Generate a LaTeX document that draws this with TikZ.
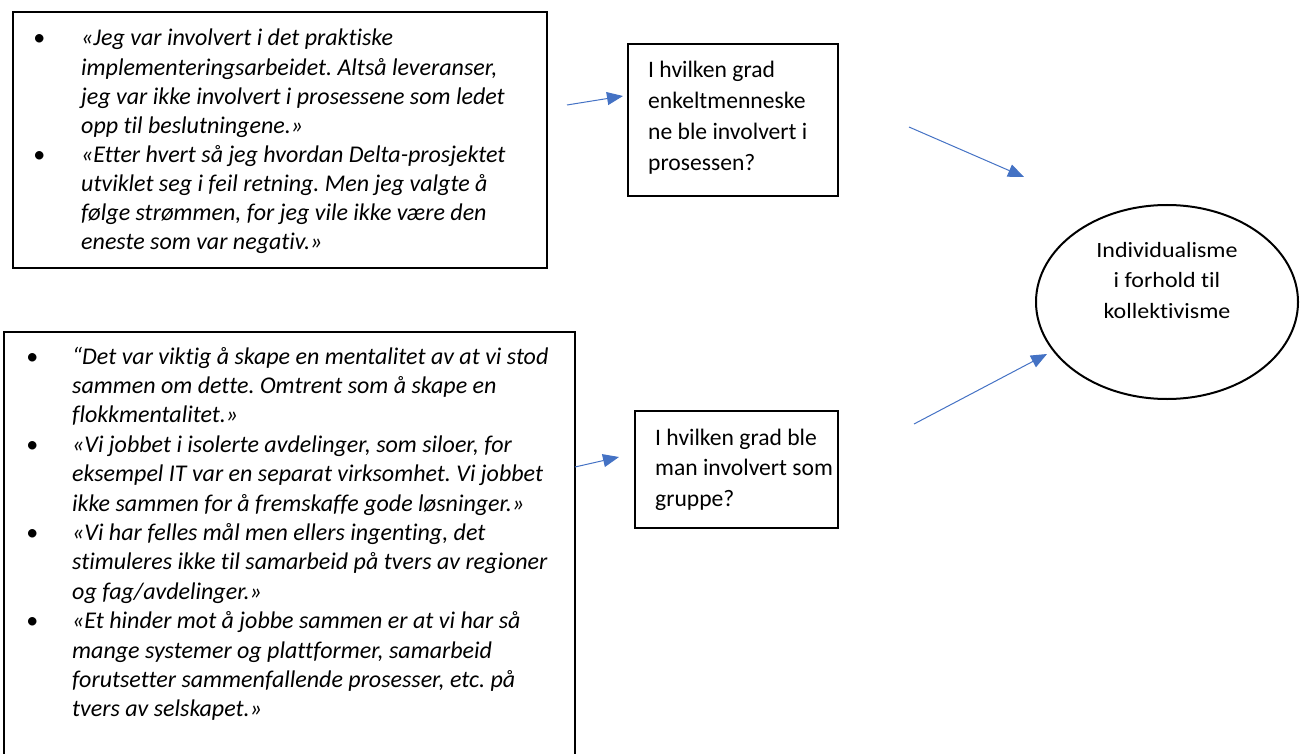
\documentclass[tikz,border=0pt]{standalone}
\usepackage{fontspec}
\setmainfont{Carlito}[Ligatures=CommonOff]
\newfontfamily\themefont{Carlito}[Ligatures=CommonOff,FakeStretch=1.1]
\usetikzlibrary{arrows.meta,shapes.geometric}
\definecolor{linkblue}{HTML}{4472C4}
\frenchspacing
\begin{document}
\begin{tikzpicture}[x=1pt,y=-1pt,
  frame/.style={draw=black,line width=1.6pt,anchor=north west,inner sep=0pt},
  quote/.style={anchor=base west,inner sep=0pt,font=\fontsize{24}{29.1}\selectfont\itshape},
  longquote/.style={quote,font=\fontsize{24}{29.4}\selectfont\itshape},
  question/.style={anchor=base west,inner sep=0pt,font=\fontsize{23.6}{30.7}\selectfont},
  link/.style={draw=linkblue,line width=1pt,-{Triangle[length=16pt,width=13pt]}}]
\useasboundingbox (0,0) rectangle (1306,754);

% quotation boxes
\node[frame,minimum width=534pt,minimum height=256pt] (box1) at (12,11) {};
\node[quote] (txt1) at (33,46) {\begin{tabular}[t]{@{}p{48pt}@{}l@{}}
\textbullet & «Jeg var involvert i det praktiske\\
 & implementeringsarbeidet. Altså leveranser,\\
 & jeg var ikke involvert i prosessene som ledet\\
 & opp til beslutningene.»\\
\textbullet & «Etter hvert så jeg hvordan Delta-prosjektet\\
 & utviklet seg i feil retning. Men jeg valgte å\\
 & følge strømmen, for jeg vile ikke være den\\
 & eneste som var negativ.»
\end{tabular}};

\node[frame,minimum width=571pt,minimum height=440pt] (box2) at (3,331) {};
\node[longquote] (txt2) at (26,364) {\begin{tabular}[t]{@{}p{46pt}@{}l@{}}
\textbullet & “Det var viktig å skape en mentalitet av at vi stod\\
 & sammen om dette. Omtrent som å skape en\\
 & flokkmentalitet.»\\
\textbullet & «Vi jobbet i isolerte avdelinger, som siloer, for\\
 & eksempel IT var en separat virksomhet. Vi jobbet\\
 & ikke sammen for å fremskaffe gode løsninger.»\\
\textbullet & «Vi har felles mål men ellers ingenting, det\\
 & stimuleres ikke til samarbeid på tvers av regioner\\
 & og fag/avdelinger.»\\
\textbullet & «Et hinder mot å jobbe sammen er at vi har så\\
 & mange systemer og plattformer, samarbeid\\
 & forutsetter sammenfallende prosesser, etc. på\\
 & tvers av selskapet.»
\end{tabular}};

% question boxes
\node[frame,minimum width=210pt,minimum height=152pt] (ask1) at (627,43) {};
\node[question] (asktxt1) at (648,78) {\begin{tabular}[t]{@{}l@{}}
I hvilken grad\\ enkeltmenneske\\ ne ble involvert i\\ prosessen?
\end{tabular}};

\node[frame,minimum width=203pt,minimum height=117pt] (ask2) at (634,410) {};
\node[question] (asktxt2) at (655,445) {\begin{tabular}[t]{@{}l@{}}
I hvilken grad ble\\ man involvert som\\ gruppe?
\end{tabular}};

% theme ellipse
\node[draw=black,line width=2pt,ellipse,minimum width=262pt,minimum height=194pt,inner sep=0pt] (theme) at (1167,302) {};
\node[anchor=base,inner sep=0pt,font=\themefont\fontsize{21.8}{30.5}\selectfont] (themetxt) at (1167,257) {\begin{tabular}[t]{@{}c@{}}
Individualisme\\ i forhold til\\ kollektivisme
\end{tabular}};

% connector end points
\coordinate (a1s) at (567,105);
\coordinate (a1e) at (623,96);
\coordinate (a2s) at (909,127);
\coordinate (a2e) at (1024,177);
\coordinate (a3s) at (575,467);
\coordinate (a3e) at (619,457);
\coordinate (a4s) at (914,424);
\coordinate (a4e) at (1047,354);

\draw[link] (a1s) -- (a1e);
\draw[link] (a2s) -- (a2e);
\draw[link] (a3s) -- (a3e);
\draw[link] (a4s) -- (a4e);
\end{tikzpicture}
\end{document}
